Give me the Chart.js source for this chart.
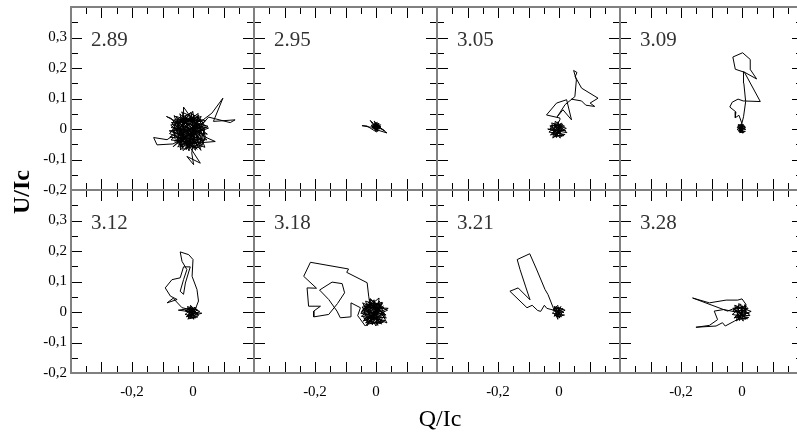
<!DOCTYPE html>
<html>
<head>
<meta charset="utf-8">
<script src="https://cdn.jsdelivr.net/npm/chart.js@4.4.0/dist/chart.umd.min.js"></script>
<style>
  html, body { margin: 0; padding: 0; background: #fff; overflow: hidden; }
  #wrap { position: relative; width: 797px; height: 437px; overflow: hidden; }
  #wrap canvas { position: absolute; left: 0; top: 0; }
  .axis-title { position: absolute; font-family: "Liberation Serif", serif; font-size: 24px; color: #000; white-space: nowrap; line-height: 1; will-change: transform; }
  #ytitle { left: 21px; top: 192px; transform: translate(-50%, -50%) rotate(-90deg); font-weight: bold; }
  #xtitle { left: 440px; top: 418px; transform: translate(-50%, -50%); }
</style>
</head>
<body>
<div id="wrap">
  <div id="ytitle" class="axis-title">U/Ic</div>
  <div id="xtitle" class="axis-title">Q/Ic</div>
</div>
<script>
// panel names, left to right, top row then bottom row
var panelLabels = ["2.89", "2.95", "3.05", "3.09", "3.12", "3.18", "3.21", "3.28"];

var xTickLabels = [-0.2, 0];
var yTickLabels = [-0.2, -0.1, 0, 0.1, 0.2, 0.3];

// Q/Ic, U/Ic pairs
var track289 = [
  [0.036,0.012],[-0.052,-0.041],[0.018,-0.061],[-0.035,0.045],[0.047,-0.017],[-0.072,0.005],[-0.006,0.055],[0.008,-0.070],
  [-0.063,0.030],[0.027,0.024],[-0.043,-0.060],[0.038,-0.037],[-0.076,-0.027],[0.004,0.043],[-0.013,-0.072],[-0.055,0.041],
  [0.049,0.009],[-0.066,-0.049],[-0.118,-0.052],[-0.129,-0.028],[-0.085,-0.035],[0.015,0.033],[-0.024,-0.061],[0.029,-0.051],
  [-0.071,0.021],[0.033,0.030],[0.062,0.052],[0.098,0.101],[0.067,0.025],[0.138,0.030],[0.122,0.021],[0.051,0.039],
  [-0.041,-0.069],[-0.031,0.054],[-0.031,0.072],[0.045,-0.036],[-0.066,-0.010],[0.017,0.051],[-0.004,-0.079],[0.002,-0.117],
  [-0.020,-0.090],[0.024,-0.112],[-0.070,0.034],[-0.087,0.041],[0.024,-0.020],[-0.050,-0.059],[0.008,0.019],[0.039,-0.060],
  [-0.077,-0.015],[-0.012,0.047],[0.026,-0.070],[-0.045,0.024],[0.051,0.003],[-0.061,-0.039],[0.004,-0.046],[-0.037,0.056],
  [0.035,0.021],[-0.056,-0.025],[0.014,-0.066],[-0.073,0.013],[0.027,0.041],[-0.025,-0.050],[-0.062,0.044],[0.046,-0.029],
  [0.073,-0.041],[-0.046,-0.051],[-0.001,0.058],[0.017,-0.040],[-0.078,-0.006],[0.037,0.004],[-0.032,-0.071],[-0.053,0.033],
  [0.042,0.028],[-0.065,-0.058],[0.005,0.015],[-0.016,-0.060],[-0.043,0.050],[0.034,-0.046],[-0.072,-0.036],[0.019,0.045],
  [-0.023,-0.068],[0.026,-0.007],[-0.054,0.013],[0.006,-0.030],[-0.034,0.023],[0.016,0.006],[-0.046,-0.019],[-0.004,-0.037],
  [-0.025,0.012],[0.028,-0.038],[-0.063,0.004],[0.007,0.034],[-0.034,-0.040],[-0.030,0.020],[-0.002,0.030],[0.020,0.010],
  [0.030,-0.020],[0.010,-0.045],[-0.020,-0.050],[-0.045,-0.030],[-0.055,0.000],[-0.040,0.030],[-0.015,0.040],[0.012,0.028],
  [0.025,0.000],[0.018,-0.030],[-0.005,-0.055],[-0.030,-0.040],[-0.050,-0.015],[-0.048,0.018],[-0.025,0.035],[0.000,0.020],
  [0.022,0.015],[0.035,-0.010],[0.022,-0.048],[-0.008,-0.035],[-0.035,-0.055],[-0.060,-0.030],[-0.060,0.012],[-0.035,0.040],
  [-0.008,0.050],[0.015,0.040],[0.030,0.012],[0.040,-0.025],[0.028,-0.058],[0.000,-0.062],[-0.025,-0.030],[-0.042,-0.005],
  [-0.030,0.008],[-0.012,0.022],[0.005,0.005],[0.010,-0.018],[-0.010,-0.020],[-0.022,-0.002],[-0.005,0.012],[0.008,-0.002],
  [-0.002,-0.015],[-0.018,-0.012],[-0.038,0.012],[-0.052,-0.045],[-0.028,-0.065],[0.012,-0.055],[0.032,-0.032],[0.040,0.008],
  [0.020,0.038],[-0.010,0.035],[-0.050,0.030],[-0.068,-0.005],[-0.045,-0.040],[-0.015,-0.045],[0.005,-0.025],[-0.020,0.005],
  [-0.012,-0.008]
];
var track295 = [
  [-0.010,0.015],[0.012,0.000],[-0.004,0.020],[0.008,-0.004],[-0.014,0.004],[0.015,0.014],[-0.002,-0.006],[0.004,0.022],
  [-0.012,0.010],[0.014,0.004],[-0.006,0.000],[0.036,-0.013],[0.010,0.008],[-0.008,0.018],[-0.019,0.028],[0.006,-0.008],
  [-0.016,0.012],[0.010,0.018],[0.002,-0.010],[-0.030,0.010],[-0.046,0.011],[-0.020,0.006],[0.008,0.012],[-0.006,0.026],
  [0.004,0.002],[-0.010,0.008],[0.016,0.008],[0.000,0.014],[0.028,-0.006],[0.006,0.006],[-0.004,0.010],[0.008,0.016],
  [-0.008,0.004],[0.004,0.012],[-0.002,0.002]
];
var track305 = [
  [0.015,0.012],[-0.022,-0.016],[0.010,-0.024],[-0.018,0.018],[0.022,-0.006],[-0.030,0.002],[-0.002,0.024],[0.004,-0.030],
  [-0.026,0.012],[0.018,0.010],[-0.016,-0.026],[0.020,-0.018],[-0.033,-0.010],[0.002,0.016],[-0.008,-0.028],[-0.024,0.020],
  [0.024,0.002],[-0.028,-0.020],[0.008,0.020],[-0.012,-0.022],[0.016,-0.022],[-0.030,0.010],[0.012,0.016],[-0.020,-0.030],
  [-0.012,0.026],[0.026,-0.012],[-0.037,0.000],[0.006,-0.014],[-0.010,0.010],[0.012,-0.004],[-0.018,-0.006],[0.000,0.008],
  [-0.006,-0.012],[0.008,0.004],[-0.012,0.004],[0.003,0.030],[0.003,0.036],[-0.041,0.046],[-0.008,0.085],[0.025,0.096],
  [0.041,0.030],[0.013,0.063],[-0.006,0.040],[0.020,0.080],[0.052,0.106],[0.057,0.161],[0.048,0.192],[0.059,0.185],
  [0.053,0.172],[0.074,0.134],[0.128,0.101],[0.102,0.085],[0.117,0.074],[0.088,0.078],[0.074,0.092],[0.040,0.098]
];
var track309 = [
  [0.000,0.020],[0.005,0.040],[0.012,0.090],[0.006,0.150],[0.005,0.188],[0.048,0.164],[0.028,0.194],[0.027,0.228],
  [0.002,0.250],[-0.030,0.236],[-0.022,0.196],[0.008,0.186],[0.060,0.090],[0.004,0.092],[-0.013,0.098],[-0.032,0.088],
  [-0.040,0.072],[-0.020,0.056],[-0.022,0.037],[-0.010,0.045],[0.002,0.012],
  [0.008,0.010],[-0.012,-0.006],[0.006,-0.012],[-0.010,0.014],[0.012,-0.002],[-0.016,0.004],[-0.002,0.018],[0.002,-0.014],
  [-0.014,0.010],[0.010,0.008],[-0.008,-0.012],[0.011,-0.008],[-0.016,-0.002],[0.000,0.012],[-0.004,-0.013],[-0.012,0.015],
  [0.012,0.004],[-0.010,-0.008],[0.004,0.016],[-0.006,-0.006],[0.006,0.002],[-0.008,0.006],[0.002,-0.006],[0.002,0.010]
];
var track312 = [
  [0.012,0.010],[-0.018,-0.014],[0.008,-0.020],[-0.016,0.014],[0.018,-0.006],[-0.024,0.002],[-0.004,0.018],[0.002,-0.024],
  [-0.020,0.010],[0.014,0.008],[-0.012,-0.022],[0.016,-0.016],[-0.026,-0.008],[0.000,0.014],[-0.006,-0.020],[-0.018,0.018],
  [0.022,0.002],[-0.022,-0.016],[0.006,0.016],[-0.010,-0.016],[0.029,-0.004],[-0.048,0.006],[0.010,0.014],[-0.016,-0.024],
  [-0.008,0.022],[0.018,-0.012],[-0.026,0.006],[0.004,-0.010],[-0.010,0.006],[0.008,0.002],[-0.014,-0.004],[0.000,0.006],
  [-0.036,0.014],[-0.065,0.045],[-0.085,0.030],[-0.052,0.041],[-0.074,0.052],[-0.091,0.079],[-0.069,0.106],[-0.042,0.112],
  [-0.031,0.148],[-0.009,0.148],[-0.025,0.095],[-0.031,0.058],[-0.042,0.068],[-0.031,0.106],[-0.020,0.139],[-0.036,0.166],
  [-0.042,0.197],[-0.014,0.188],[0.000,0.172],[-0.003,0.117],[0.013,0.074],[0.018,0.036],[0.008,0.010]
];
var track318 = [
  [0.025,0.020],[-0.035,-0.028],[0.015,-0.038],[-0.026,0.033],[0.033,-0.010],[-0.045,0.005],[-0.006,0.040],[0.006,-0.044],
  [-0.040,0.022],[0.022,0.030],[-0.028,-0.040],[0.030,-0.028],[-0.048,-0.014],[0.004,0.030],[-0.012,-0.042],[-0.034,0.036],
  [0.038,0.006],[-0.042,-0.030],[0.012,0.036],[-0.020,-0.036],[0.024,-0.034],[-0.046,0.016],[0.020,0.026],[-0.030,-0.046],
  [-0.018,0.044],[0.034,-0.020],[-0.050,-0.004],[0.010,0.046],[0.000,-0.046],[-0.044,0.030],[0.028,-0.004],[-0.034,-0.036],
  [0.008,0.016],[0.036,-0.036],[-0.048,0.002],[-0.010,0.034],[0.018,-0.040],[-0.030,0.016],[0.040,0.012],[-0.040,-0.022],
  [0.006,-0.024],[-0.022,0.042],[0.026,0.014],[-0.036,-0.010],[0.012,-0.032],[-0.044,0.010],[0.020,0.032],[-0.016,-0.030],
  [-0.030,0.028],[0.030,-0.018],[-0.024,-0.020],[0.002,0.010],[-0.010,-0.010],[0.012,0.002],[-0.020,0.004],
  [-0.020,0.020],[0.005,0.028],[0.020,0.008],[0.015,-0.020],[-0.005,-0.035],[-0.028,-0.025],[-0.038,0.000],[-0.025,0.025],
  [0.000,0.015],[0.018,-0.002],[0.005,-0.022],[-0.018,-0.015],[-0.030,0.010],[-0.010,0.030],[0.015,0.020],[0.028,-0.010],
  [0.010,-0.035],[-0.020,-0.038],[-0.040,-0.018],[-0.035,0.020],[-0.012,0.012],[0.008,0.000],[-0.006,-0.012],[-0.022,0.000],
  [-0.008,0.020],[0.010,0.012],[0.002,-0.008],[-0.015,-0.005],
  [-0.024,0.052],[-0.029,0.096],[-0.096,0.130],[-0.090,0.141],[-0.215,0.163],[-0.237,0.117],[-0.195,0.078],[-0.226,0.079],
  [-0.221,0.019],[-0.182,0.019],[-0.204,0.003],[-0.204,-0.016],[-0.155,-0.008],[-0.126,0.028],[-0.103,0.063],[-0.111,0.093],
  [-0.144,0.098],[-0.185,0.072],[-0.155,0.041],[-0.128,0.003],[-0.117,-0.019],[-0.084,-0.016],[-0.082,0.030],[-0.051,0.014],
  [-0.060,-0.012],[-0.035,-0.046],[-0.010,-0.020]
];
var track321 = [
  [0.012,0.012],[-0.016,-0.010],[0.008,-0.016],[-0.014,0.016],[0.016,-0.002],[-0.020,0.006],[-0.004,0.022],[0.002,-0.020],
  [-0.018,0.012],[0.014,0.010],[-0.010,-0.016],[0.018,-0.010],[-0.022,-0.004],[0.000,0.016],[-0.004,-0.024],[-0.016,0.018],
  [0.020,0.006],[-0.016,-0.014],[0.006,0.018],[-0.008,-0.010],[0.010,-0.006],[-0.012,0.006],[0.004,0.006],[-0.006,0.000],
  [-0.019,0.014],[-0.036,0.057],[-0.046,0.074],[-0.074,0.141],[-0.096,0.191],[-0.137,0.172],[-0.128,0.140],[-0.110,0.085],
  [-0.095,0.040],[-0.134,0.079],[-0.161,0.068],[-0.105,0.014],[-0.088,0.022],[-0.070,0.005],[-0.060,0.002],[-0.048,0.022],
  [-0.040,0.012],[-0.010,0.004]
];
var track328 = [
  [0.018,0.014],[-0.022,-0.016],[0.012,-0.024],[-0.020,0.018],[0.024,-0.006],[-0.030,0.004],[-0.004,0.026],[0.004,-0.030],
  [-0.026,0.012],[0.020,0.012],[-0.016,-0.026],[0.022,-0.018],[-0.032,-0.008],[0.002,0.020],[-0.008,-0.028],[-0.024,0.022],
  [0.030,0.002],[-0.026,-0.020],[0.010,0.022],[-0.012,-0.018],[0.018,-0.022],[-0.030,0.012],[0.014,0.018],[-0.018,-0.030],
  [-0.010,0.028],[0.026,-0.012],[-0.006,-0.010],[0.008,0.006],[-0.014,0.004],[0.004,-0.008],
  [-0.030,0.010],[-0.047,0.003],[-0.162,0.046],[-0.107,0.030],[-0.052,0.039],[-0.014,0.039],[0.000,0.043],[0.013,0.025],
  [0.010,-0.010],[-0.025,-0.030],[-0.055,-0.046],[-0.064,-0.035],[-0.085,-0.046],[-0.151,-0.050],[-0.107,-0.044],[-0.080,-0.025],
  [-0.091,0.003],[-0.060,0.008],[-0.020,0.000]
];

var tracks = [track289, track295, track305, track309, track312, track318, track321, track328];

// page layout
var CANVAS_W = 810, CANVAS_H = 437;
var PANEL_LEFT = 71, PANEL_TOP = 7, PANEL_SIZE = 183;
var MINOR_STEP = 0.05;

function isMajor(v) {
  return Math.abs(v * 10 - Math.round(v * 10)) < 1e-6;
}

function commaLabel(list) {
  return function (v) {
    for (var i = 0; i < list.length; i++) {
      if (Math.abs(list[i] - v) < 1e-6) {
        return list[i] === 0 ? "0" : list[i].toFixed(1).replace(".", ",");
      }
    }
    return null;
  };
}

// frame, inward ticks on all four sides and the panel name
var panelFrame = {
  id: "panelFrame",
  afterDraw: function (chart, args, opts) {
    var ctx = chart.ctx, a = chart.chartArea;
    var xs = chart.scales.x, ys = chart.scales.y;
    var k, v, p, len;
    ctx.save();
    ctx.strokeStyle = "#000";
    ctx.lineWidth = 1;
    ctx.beginPath();
    var nx = Math.round((xs.max - xs.min) / MINOR_STEP);
    for (k = 1; k < nx; k++) {
      v = xs.min + k * MINOR_STEP;
      p = Math.round(xs.getPixelForValue(v)) + 0.5;
      len = isMajor(v) ? 11 : 7;
      ctx.moveTo(p, a.top); ctx.lineTo(p, a.top + len);
      ctx.moveTo(p, a.bottom); ctx.lineTo(p, a.bottom - len);
    }
    var ny = Math.round((ys.max - ys.min) / MINOR_STEP);
    for (k = 1; k < ny; k++) {
      v = ys.min + k * MINOR_STEP;
      p = Math.round(ys.getPixelForValue(v)) + 0.5;
      len = isMajor(v) ? 11 : 7;
      ctx.moveTo(a.left, p); ctx.lineTo(a.left + len, p);
      ctx.moveTo(a.right, p); ctx.lineTo(a.right - len, p);
    }
    ctx.stroke();
    ctx.strokeStyle = "#808080";
    ctx.lineWidth = 2;
    ctx.strokeRect(a.left, a.top, a.right - a.left, a.bottom - a.top);
    ctx.fillStyle = "#333";
    ctx.font = '21px "Liberation Serif", serif';
    ctx.textBaseline = "alphabetic";
    ctx.fillText(opts.text, a.left + 20, a.top + 39);
    ctx.restore();
  }
};

function drawPanel(i) {
  var col = i % 4, row = Math.floor(i / 4);
  var left = PANEL_LEFT + col * PANEL_SIZE;
  var top = PANEL_TOP + row * PANEL_SIZE;
  var right = left + PANEL_SIZE, bottom = top + PANEL_SIZE;

  var canvas = document.createElement("canvas");
  canvas.width = CANVAS_W;
  canvas.height = CANVAS_H;
  canvas.style.width = CANVAS_W + "px";
  canvas.style.height = CANVAS_H + "px";
  document.getElementById("wrap").appendChild(canvas);

  var tickFont = { family: '"Liberation Serif", serif', size: 15 };

  new Chart(canvas, {
    type: "scatter",
    data: {
      datasets: [{
        data: tracks[i].map(function (p) { return { x: p[0], y: p[1] }; }),
        showLine: true,
        borderColor: "#000",
        borderWidth: 1,
        pointRadius: 0,
        tension: 0
      }]
    },
    options: {
      responsive: false,
      animation: false,
      events: [],
      layout: { padding: { left: 0, top: top, right: CANVAS_W - right, bottom: 0 } },
      plugins: {
        legend: { display: false },
        tooltip: { enabled: false },
        panelFrame: { text: panelLabels[i] }
      },
      scales: {
        x: {
          type: "linear", min: -0.4, max: 0.2,
          grid: { display: false, drawTicks: false },
          border: { display: false },
          ticks: {
            display: row === 1, stepSize: 0.1, maxTicksLimit: 100, autoSkip: false, maxRotation: 0,
            padding: 10, color: "#000", font: tickFont, callback: commaLabel(xTickLabels)
          },
          afterFit: function (s) {
            s.height = CANVAS_H - bottom;
            s.paddingLeft = 0; s.paddingRight = 0;
          }
        },
        y: {
          type: "linear", min: -0.2, max: 0.4,
          grid: { display: false, drawTicks: false },
          border: { display: false },
          ticks: {
            display: col === 0, stepSize: 0.1, maxTicksLimit: 100, autoSkip: false,
            padding: 4, color: "#000", font: tickFont, callback: commaLabel(yTickLabels)
          },
          afterFit: function (s) {
            s.width = left;
            s.paddingTop = 0; s.paddingBottom = 0;
          }
        }
      }
    },
    plugins: [panelFrame]
  });
}

for (var i = 0; i < tracks.length; i++) {
  drawPanel(i);
}
</script>
</body>
</html>
